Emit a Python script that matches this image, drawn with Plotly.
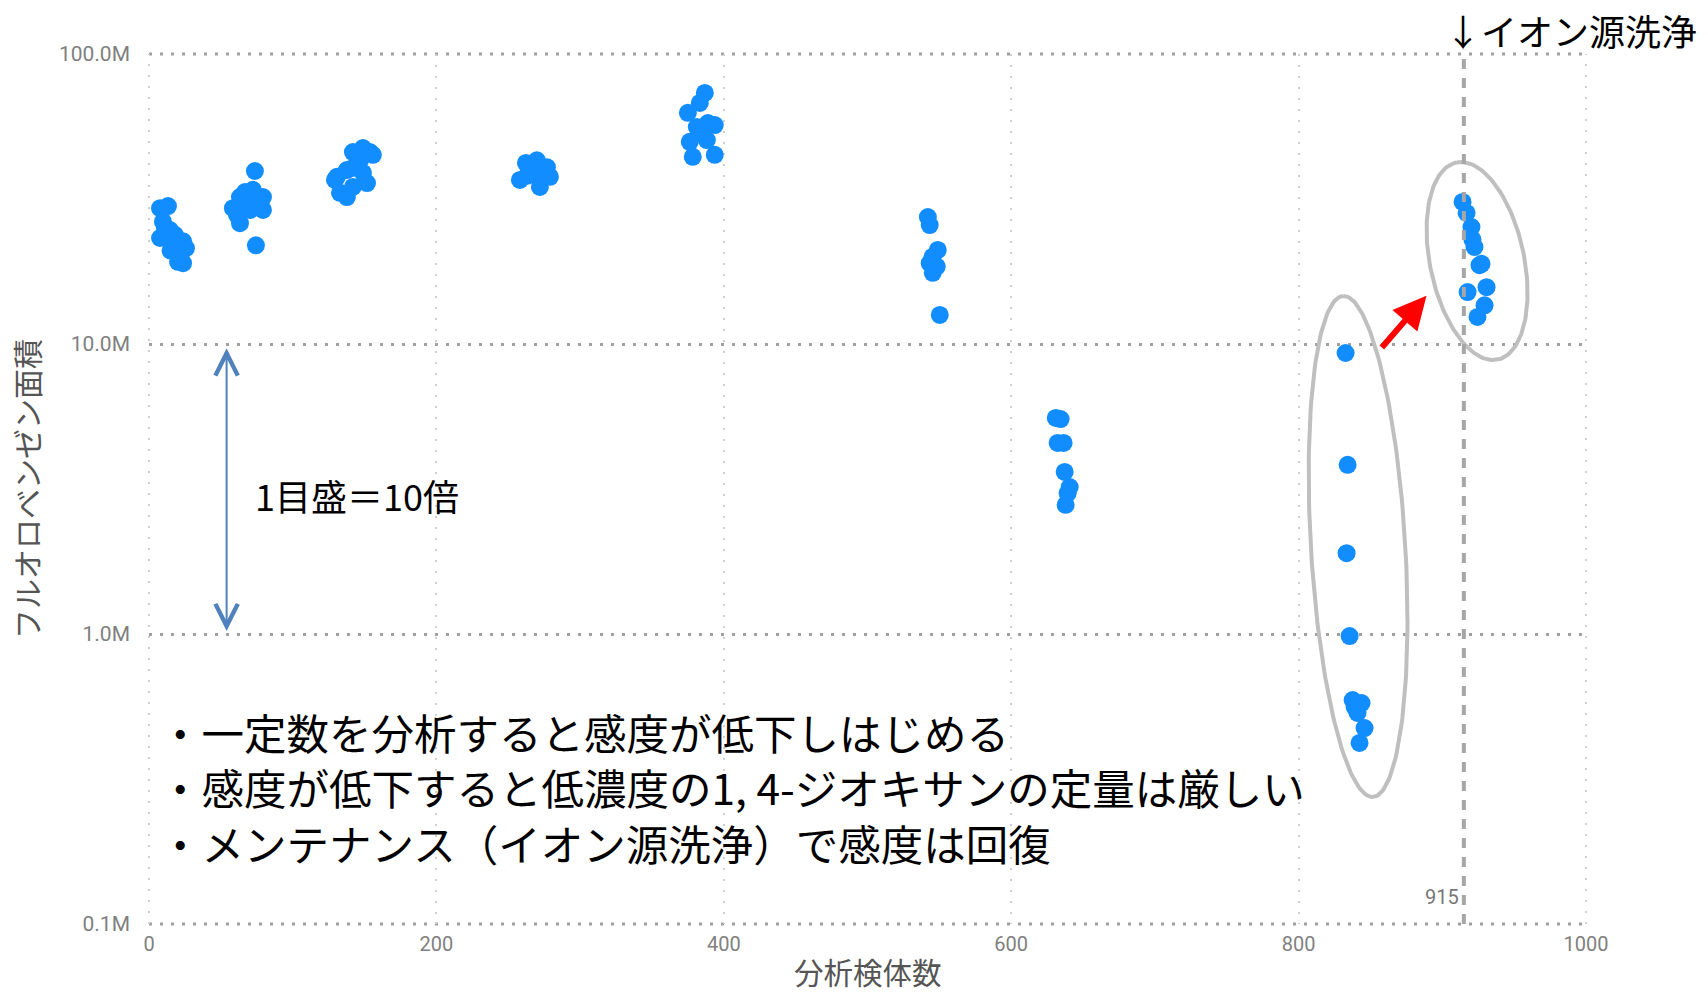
import numpy as np
import plotly.graph_objects as go

# ---------------- data ----------------
samples = [
    7.7, 13.2, 9.7, 14.6, 7.7, 16.0, 23.7, 25.7, 20.2, 23.7, 18.0, 11.0, 15.0, 20.0,
    73.7, 72.3, 79.3, 63.3, 68.2, 58.4, 79.3, 63.3, 74.4, 66.8, 75.8, 61.2, 70.3, 70.0,
    141.9, 153.7, 148.9, 155.8, 130.8, 129.4, 137.7, 148.9, 151.7, 132.9, 137.7, 141.9, 146.8, 142.0,
    262.3, 269.9, 276.9, 258.1, 267.1, 272.0, 279.0, 265.0, 270.0, 263.0,
    386.8, 383.3, 375.0, 388.9, 393.7, 381.2, 376.3, 388.2, 378.4, 393.7, 385.4,
    542.0, 543.3, 548.9, 545.4, 543.3, 545.4, 548.2, 550.3,
    631.0, 634.4, 632.3, 636.5, 637.2, 640.7, 639.3, 637.9,
    832.7, 834.1, 833.4, 835.5, 837.6, 843.8, 841.0, 845.9, 842.4, 839.0,
    914.1, 916.9, 920.3, 921.0, 922.4, 925.9, 927.3, 930.8, 917.6, 929.4, 924.5,
]
area_millions = [
    29.4, 29.9, 26.4, 24.7, 23.2, 22.6, 22.6, 21.4, 19.2, 19.0, 23.8, 25.2, 21.0, 22.0,
    39.5, 34.0, 32.1, 32.1, 30.9, 29.4, 29.0, 26.1, 21.9, 33.4, 31.5, 27.9, 29.0, 31.0,
    45.9, 45.9, 47.4, 44.9, 37.7, 36.8, 39.8, 38.9, 35.9, 33.2, 32.1, 34.8, 43.0, 40.5,
    42.1, 43.0, 40.7, 36.8, 38.9, 34.8, 37.7, 40.7, 39.5, 38.0,
    73.4, 67.8, 62.7, 57.8, 56.9, 56.0, 49.8, 50.5, 44.2, 44.9, 53.5,
    27.4, 25.7, 21.1, 20.0, 19.0, 17.6, 18.5, 12.6,
    5.56, 5.51, 4.56, 4.56, 3.62, 3.21, 3.06, 2.79,
    9.31, 3.83, 1.90, 0.984, 0.592, 0.578, 0.534, 0.474, 0.421, 0.560,
    30.9, 28.3, 25.3, 22.9, 21.6, 18.7, 18.9, 15.7, 15.1, 13.6, 12.4,
]
x_tick_vals = [0, 200, 400, 600, 800, 1000]
y_tick_vals = [1e5, 1e6, 1e7, 1e8]
y_tick_text = ["0.1M", "1.0M", "10.0M", "100.0M"]
cleaning_sample = 915

x_title = "分析検体数"
y_title = "フルオロベンゼン面積"
scale_note = "1目盛＝10倍"
cleaning_note = "↓イオン源洗浄"
bullets = [
    "・一定数を分析すると感度が低下しはじめる",
    "・感度が低下すると低濃度の1, 4-ジオキサンの定量は厳しい",
    "・メンテナンス（イオン源洗浄）で感度は回復",
]

# ---------------- layout geometry ----------------
W, H = 1708, 992
ML, MR, MT, MB = 149, 122, 54, 68
PX_PER_X = (W - ML - MR) / 1000.0
PX_PER_DEC = (H - MT - MB) / 3.0
PLOT_H = H - MT - MB

JP = "Noto Sans CJK JP"
NUM = "Roboto"
HGRID = dict(color="#a0a0a0", width=3, dash="3px,8px")
VGRID = dict(color="#cfcfcf", width=2, dash="2px,9px")

fig = go.Figure()

fig.add_trace(go.Scatter(
    x=samples,
    y=[v * 1e6 for v in area_millions],
    mode="markers",
    marker=dict(color="#118DFF", size=18, line=dict(width=0)),
    hoverinfo="skip",
    showlegend=False,
))


def ellipse(cx, cy_log, a_px, b_px, tilt_deg):
    t = np.linspace(0, 2 * np.pi, 200)
    th = np.radians(tilt_deg)
    dx = -a_px * np.cos(t) * np.sin(th) + b_px * np.sin(t) * np.cos(th)
    dy = a_px * np.cos(t) * np.cos(th) + b_px * np.sin(t) * np.sin(th)
    xs = cx + dx / PX_PER_X
    ys = 10 ** (cy_log + dy / PX_PER_DEC)
    return xs, ys


for (cx, cyl, a, b, th) in [(841.4, 6.302, 250.9, 47.2, 3.4),
                            (924.2, 7.286, 100.7, 47.1, 11.8)]:
    ex, ey = ellipse(cx, cyl, a, b, th)
    fig.add_trace(go.Scatter(
        x=ex, y=ey, mode="lines",
        line=dict(color="#bfbfbf", width=4),
        hoverinfo="skip", showlegend=False,
    ))

# edge grid lines (plotly hides grid lines lying on the plot border)
for yp in (0, 1):
    fig.add_shape(type="line", xref="paper", yref="paper", x0=0, x1=1, y0=yp, y1=yp,
                  line=HGRID, layer="below")
for xp in (0, 1):
    fig.add_shape(type="line", xref="paper", yref="paper", x0=xp, x1=xp, y0=0, y1=1,
                  line=VGRID, layer="below")

# vertical dashed line at cleaning sample
fig.add_shape(type="line", xref="x", yref="paper",
              x0=cleaning_sample, x1=cleaning_sample, y0=0, y1=1.005,
              line=dict(color="#a6a6a6", width=4, dash="10px,9px"), layer="above")

annotations = []
annotations.append(dict(
    x=cleaning_sample, y=5.093, xref="x", yref="y", xanchor="right", yanchor="middle",
    xshift=-3, text=str(cleaning_sample), showarrow=False,
    font=dict(family=NUM, size=20, color="#777777")))
annotations.append(dict(
    x=900.5, y=(PLOT_H + MT - 30) / PLOT_H, xref="x", yref="paper",
    xanchor="left", yanchor="middle", text=cleaning_note, showarrow=False,
    font=dict(family=JP, size=36, color="#000000")))
annotations.append(dict(
    x=72.3, y=6.479, xref="x", yref="y", xanchor="left", yanchor="middle",
    text=scale_note, showarrow=False,
    font=dict(family=JP, size=36, color="#000000")))
annotations.append(dict(
    x=5.6, y=5.472, xref="x", yref="y", xanchor="left", yanchor="middle", align="left",
    text="<br>".join(bullets), showarrow=False,
    font=dict(family=JP, size=42.5, color="#000000")))
# x axis title (placed at the very bottom like the reference)
annotations.append(dict(
    x=0.5, y=-(971 - (H - MB)) / PLOT_H, xref="paper", yref="paper",
    xanchor="center", yanchor="middle", text=x_title, showarrow=False, borderpad=0,
    font=dict(family=JP, size=29.5, color="#555555")))
# blue double arrow
annotations.append(dict(
    x=54, y=6.985, ax=54, ay=6.005, xref="x", yref="y", axref="x", ayref="y",
    text="", showarrow=True, arrowhead=5, startarrowhead=5, arrowside="end+start",
    arrowsize=2.2, startarrowsize=2.2, arrowwidth=2, arrowcolor="#4F81BD",
    standoff=0, startstandoff=0))
# red arrow
annotations.append(dict(
    x=889, y=7.166, ax=857, ay=6.983, xref="x", yref="y", axref="x", ayref="y",
    text="", showarrow=True, arrowhead=2, arrowsize=1.1, arrowwidth=6,
    arrowcolor="#FF0000", standoff=0))

fig.update_layout(
    width=W, height=H,
    margin=dict(l=ML, r=MR, t=MT, b=MB, pad=0, autoexpand=False),
    paper_bgcolor="white", plot_bgcolor="white",
    annotations=annotations,
    hovermode=False,
    xaxis=dict(
        range=[0, 1000], tickvals=x_tick_vals, ticks="", automargin=False,
        showgrid=True, gridcolor=VGRID["color"], gridwidth=VGRID["width"], griddash=VGRID["dash"],
        zeroline=False, showline=False, ticklabelstandoff=6,
        tickfont=dict(family=NUM, size=20, color="#808080"),
    ),
    yaxis=dict(
        type="log", range=[5, 8], tickvals=y_tick_vals, ticktext=y_tick_text, ticks="",
        automargin=False,
        showgrid=True, gridcolor=HGRID["color"], gridwidth=HGRID["width"], griddash=HGRID["dash"],
        zeroline=False, showline=False, ticklabelstandoff=18,
        tickfont=dict(family=NUM, size=21, color="#808080"),
        title=dict(text=y_title, font=dict(family=JP, size=30, color="#555555"), standoff=10),
    ),
)

fig.write_html("out.html")
